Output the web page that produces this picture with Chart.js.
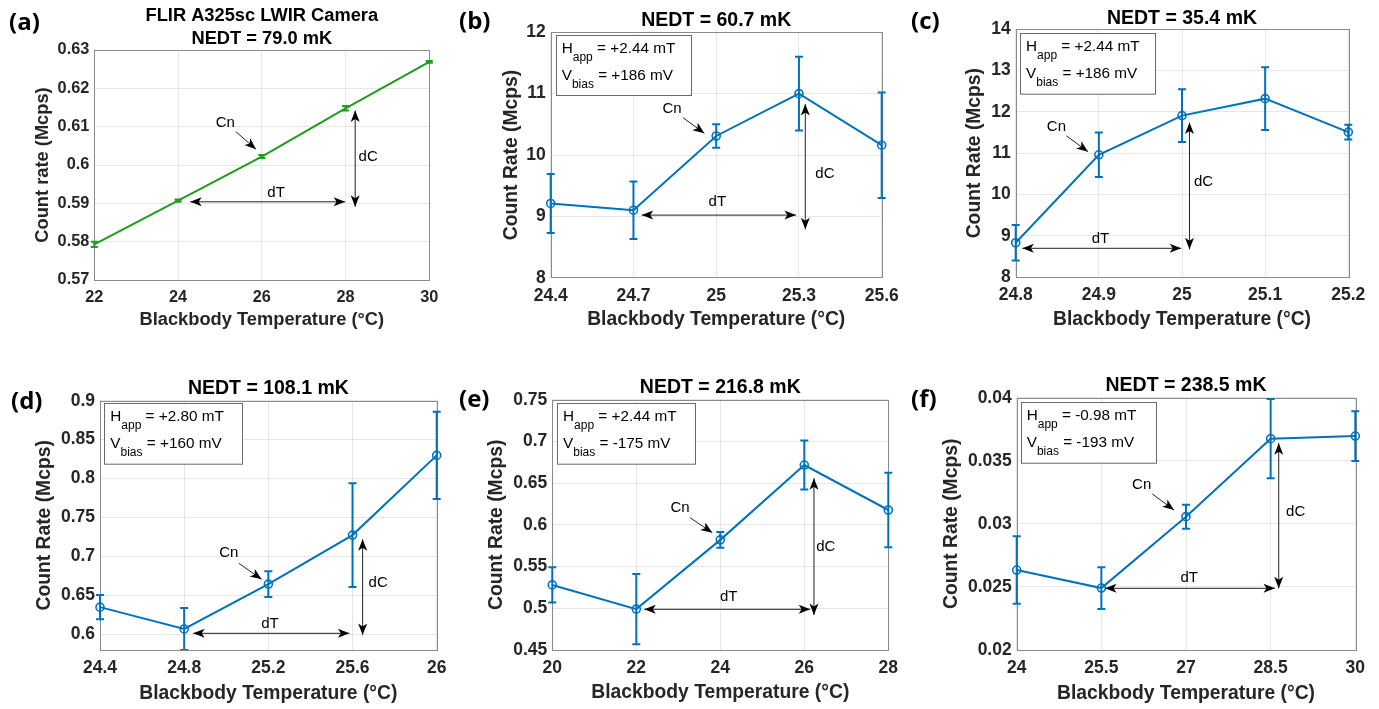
<!DOCTYPE html>
<html><head><meta charset="utf-8">
<script src="https://cdn.jsdelivr.net/npm/chart.js@4.4.1/dist/chart.umd.min.js"></script>
<style>
html,body{margin:0;padding:0;background:#fff;}
#wrap{position:relative;width:1379px;height:709px;overflow:hidden;background:#fff;}
.cell{position:absolute;}
canvas{display:block;}
</style></head><body><div id="wrap"></div>
<script>
// ---------------- data ----------------
const tempsA = [22, 24, 26, 28, 30];
const rateA  = [0.5793, 0.5907, 0.6022, 0.6148, 0.6269];
const errA   = [0.0007, 0.0003, 0.0004, 0.0006, 0.0002];
const xTicksA = [22, 24, 26, 28, 30];
const yTicksA = [0.57, 0.58, 0.59, 0.6, 0.61, 0.62, 0.63];

const tempsB = [24.4, 24.7, 25.0, 25.3, 25.6];
const rateB  = [9.21, 9.10, 10.31, 11.00, 10.16];
const errB   = [0.48, 0.47, 0.19, 0.60, 0.86];
const xTicksB = [24.4, 24.7, 25, 25.3, 25.6];
const yTicksB = [8, 9, 10, 11, 12];

const tempsC = [24.8, 24.9, 25.0, 25.1, 25.2];
const rateC  = [8.83, 10.96, 11.91, 12.32, 11.51];
const errC   = [0.43, 0.54, 0.64, 0.76, 0.18];
const xTicksC = [24.8, 24.9, 25, 25.1, 25.2];
const yTicksC = [8, 9, 10, 11, 12, 13, 14];

const tempsD = [24.4, 24.8, 25.2, 25.6, 26.0];
const rateD  = [0.635, 0.607, 0.6646, 0.7275, 0.8298];
const errD   = [0.0155, 0.027, 0.0165, 0.0666, 0.056];
const xTicksD = [24.4, 24.8, 25.2, 25.6, 26];
const yTicksD = [0.6, 0.65, 0.7, 0.75, 0.8, 0.85, 0.9];

const tempsE = [20, 22, 24, 26, 28];
const rateE  = [0.528, 0.499, 0.582, 0.6717, 0.6178];
const errE   = [0.0212, 0.042, 0.0094, 0.0293, 0.0447];
const xTicksE = [20, 22, 24, 26, 28];
const yTicksE = [0.45, 0.5, 0.55, 0.6, 0.65, 0.7, 0.75];

const tempsF = [24, 25.5, 27, 28.5, 30];
const rateF  = [0.02634, 0.02491, 0.03057, 0.03675, 0.03696];
const errF   = [0.00267, 0.00165, 0.00095, 0.00314, 0.00197];
const xTicksF = [24, 25.5, 27, 28.5, 30];
const yTicksF = [0.02, 0.025, 0.03, 0.035, 0.04];

const titles = ['NEDT = 79.0 mK', 'NEDT = 60.7 mK', 'NEDT = 35.4 mK', 'NEDT = 108.1 mK', 'NEDT = 216.8 mK', 'NEDT = 238.5 mK'];
const happ  = ['+2.44 mT', '+2.44 mT', '+2.80 mT', '+2.44 mT', '-0.98 mT'];
const vbias = ['+186 mV', '+186 mV', '+160 mV', '-175 mV', '-193 mV'];

// ---------------- layout / style ----------------
const FONT = '"Liberation Sans", Arial, Helvetica, sans-serif';
const LBLFONT = '"Open Sans", "Noto Sans", sans-serif';
const BLUE = '#0072BD', GREEN = '#1c9e1c';

const panels = [
 {cell:[0,0,455,350], pad:{l:94.3,r:25.7,t:50,b:70}, x:tempsA, y:rateA, e:errA, xt:xTicksA, yt:yTicksA,
  xmin:22, xmax:30, ymin:0.57, ymax:0.63, color:GREEN, marker:false, cap:3.5,
  title:['FLIR A325sc LWIR Camera', titles[0]], titleOff:[34,10.7], tick:16.3, lab:18.3, tsz:18.3,
  label:'(a)', lpos:[9,23], yTitle:'Count rate (Mcps)', yOff:51.6, xOff:40, box:null,
  ann:{cn:[25.13,0.6109], cf:[25.38,0.6087], ct:[25.86,0.6041], dT:[0.5904,24.29,27.99], dTt:[26.34,0.5928], dC:[28.23,0.6142,0.5891], dCt:[28.54,0.602]}},
 {cell:[455,0,910,350], pad:{l:95.7,r:28.3,t:32.3,b:72.3}, x:tempsB, y:rateB, e:errB, xt:xTicksB, yt:yTicksB,
  xmin:24.4, xmax:25.6, ymin:8, ymax:12, color:BLUE, marker:true, cap:4,
  title:[titles[1]], titleOff:[11.6], tick:17.5, lab:19.3, tsz:19.5,
  label:'(b)', lpos:[4,22], yTitle:'Count Rate (Mcps)', yOff:39, xOff:41.6, box:{dx:5,dy:2.7,w:135,h:60,i:0},
  ann:{cn:[24.84,10.75], cf:[24.879,10.61], ct:[24.957,10.354], dT:[9.02,24.73,25.289], dTt:[25.004,9.24], dC:[25.323,10.83,8.79], dCt:[25.394,9.69]}},
 {cell:[910,0,1379,350], pad:{l:105.7,r:30.7,t:29.3,b:73}, x:tempsC, y:rateC, e:errC, xt:xTicksC, yt:yTicksC,
  xmin:24.8, xmax:25.2, ymin:8, ymax:14, color:BLUE, marker:true, cap:4,
  title:[titles[2]], titleOff:[11], tick:17.5, lab:19.3, tsz:19.5,
  label:'(c)', lpos:[1,22], yTitle:'Count Rate (Mcps)', yOff:40.7, xOff:42.3, box:{dx:4.3,dy:4,w:135,h:60.7,i:1},
  ann:{cn:[24.849,11.63], cf:[24.861,11.42], ct:[24.887,11.035], dT:[8.695,24.808,24.999], dTt:[24.902,8.93], dC:[25.009,11.74,8.67], dCt:[25.026,10.31]}},
 {cell:[0,350,455,709], pad:{l:100,r:18.3,t:50.7,b:59}, x:tempsD, y:rateD, e:errD, xt:xTicksD, yt:yTicksD,
  xmin:24.4, xmax:26, ymin:0.58, ymax:0.9, color:BLUE, marker:true, cap:4,
  title:[titles[3]], titleOff:[12.4], tick:17.5, lab:19.3, tsz:19.5,
  label:'(d)', lpos:[11,51.7], yTitle:'Count Rate (Mcps)', yOff:55, xOff:43.3, box:{dx:4.3,dy:2.7,w:138,h:60.7,i:2},
  ann:{cn:[25.012,0.7041], cf:[25.06,0.6913], ct:[25.168,0.6707], dT:[0.6014,24.843,25.585], dTt:[25.208,0.6134], dC:[25.648,0.7221,0.5993], dCt:[25.722,0.6656]}},
 {cell:[455,350,910,709], pad:{l:97.3,r:21.7,t:49.7,b:59}, x:tempsE, y:rateE, e:errE, xt:xTicksE, yt:yTicksE,
  xmin:20, xmax:28, ymin:0.45, ymax:0.75, color:BLUE, marker:true, cap:4,
  title:[titles[4]], titleOff:[12.4], tick:17.5, lab:19.3, tsz:19.5,
  label:'(e)', lpos:[4,50.5], yTitle:'Count Rate (Mcps)', yOff:55.6, xOff:42.7, box:{dx:4.7,dy:3.7,w:138,h:60.7,i:3},
  ann:{cn:[23.04,0.6198], cf:[23.28,0.6086], ct:[23.81,0.5906], dT:[0.4988,22.19,26.14], dTt:[24.2,0.5132], dC:[26.23,0.6558,0.492], dCt:[26.51,0.5731]}},
 {cell:[910,350,1379,709], pad:{l:106.7,r:23.7,t:47.7,b:59}, x:tempsF, y:rateF, e:errF, xt:xTicksF, yt:yTicksF,
  xmin:24, xmax:30, ymin:0.02, ymax:0.04, color:BLUE, marker:true, cap:4,
  title:[titles[5]], titleOff:[11.7], tick:17.5, lab:19.3, tsz:19.5,
  label:'(f)', lpos:[1,50], yTitle:'Count Rate (Mcps)', yOff:65, xOff:43.3, box:{dx:4,dy:4,w:135,h:60.7,i:4},
  ann:{cn:[26.215,0.03308], cf:[26.403,0.03237], ct:[26.787,0.0311], dT:[0.02489,25.565,28.577], dTt:[27.058,0.02573], dC:[28.643,0.03639,0.02489], dCt:[28.944,0.03096]}}
];

function head(ctx, tx, ty, ang){
  const L = 11.5, W = 4.5, N = 8.5;
  ctx.save(); ctx.translate(tx, ty); ctx.rotate(ang);
  ctx.beginPath(); ctx.moveTo(0,0); ctx.lineTo(-L,-W); ctx.lineTo(-N,0); ctx.lineTo(-L,W); ctx.closePath();
  ctx.fill(); ctx.restore();
}
function arrow(ctx, x1, y1, x2, y2, both){
  ctx.beginPath(); ctx.moveTo(x1,y1); ctx.lineTo(x2,y2); ctx.stroke();
  const ang = Math.atan2(y2-y1, x2-x1);
  head(ctx, x2, y2, ang);
  if (both) head(ctx, x1, y1, ang + Math.PI);
}

function decor(P){
  return {
    id: 'decor',
    beforeDatasetsDraw(chart){
      const {ctx, chartArea:a} = chart;
      ctx.save();
      ctx.strokeStyle = '#8a8a8a'; ctx.lineWidth = 1;
      ctx.strokeRect(Math.round(a.left)+0.5, Math.round(a.top)+0.5, Math.round(a.right-a.left), Math.round(a.bottom-a.top));
      ctx.restore();
    },
    afterDatasetsDraw(chart){
      const {ctx, chartArea:a, scales:{x, y}} = chart;
      ctx.save();
      ctx.beginPath(); ctx.rect(a.left-12, a.top, a.right-a.left+24, a.bottom-a.top); ctx.clip();
      ctx.strokeStyle = P.color; ctx.lineWidth = 2;
      P.x.forEach((t,i) => {
        const px = x.getPixelForValue(t);
        const y1 = y.getPixelForValue(P.y[i]-P.e[i]);
        const y2 = y.getPixelForValue(P.y[i]+P.e[i]);
        ctx.beginPath();
        ctx.moveTo(px,y1); ctx.lineTo(px,y2);
        ctx.moveTo(px-P.cap,y1); ctx.lineTo(px+P.cap,y1);
        ctx.moveTo(px-P.cap,y2); ctx.lineTo(px+P.cap,y2);
        ctx.stroke();
      });
      ctx.restore();
    },
    afterDraw(chart){
      const {ctx, chartArea:a, scales:{x, y}} = chart;
      const X = v => x.getPixelForValue(v), Y = v => y.getPixelForValue(v);
      ctx.save();
      // annotations
      const A = P.ann;
      ctx.fillStyle = '#000'; ctx.strokeStyle = '#222'; ctx.lineWidth = 1;
      ctx.font = '15px ' + FONT; ctx.textAlign = 'center'; ctx.textBaseline = 'middle';
      ctx.fillText('Cn', X(A.cn[0]), Y(A.cn[1]));
      ctx.fillText('dT', X(A.dTt[0]), Y(A.dTt[1]));
      ctx.fillText('dC', X(A.dCt[0]), Y(A.dCt[1]));
      arrow(ctx, X(A.cf[0]), Y(A.cf[1]), X(A.ct[0]), Y(A.ct[1]), false);
      arrow(ctx, X(A.dT[1]), Y(A.dT[0]), X(A.dT[2]), Y(A.dT[0]), true);
      arrow(ctx, X(A.dC[0]), Y(A.dC[1]), X(A.dC[0]), Y(A.dC[2]), true);
      // text box
      if (P.box){
        const B = P.box, bx = a.left + B.dx, by = a.top + B.dy;
        ctx.fillStyle = '#fff'; ctx.fillRect(bx, by, B.w, B.h);
        ctx.strokeStyle = '#6a6a6a'; ctx.lineWidth = 1;
        ctx.strokeRect(Math.round(bx)+0.5, Math.round(by)+0.5, B.w, B.h);
        ctx.fillStyle = '#000'; ctx.textAlign = 'left'; ctx.textBaseline = 'alphabetic';
        const rows = [['H','app',' = ' + happ[B.i]], ['V','bias',' = ' + vbias[B.i]]];
        rows.forEach((r, k) => {
          let cx = bx + 6; const base = by + 18 + k*27;
          ctx.font = '15.3px ' + FONT; ctx.fillText(r[0], cx, base); cx += ctx.measureText(r[0]).width;
          ctx.font = '12px ' + FONT; ctx.fillText(r[1], cx, base + 8); cx += ctx.measureText(r[1]).width;
          ctx.font = '15.3px ' + FONT; ctx.fillText(r[2], cx, base);
        });
      }
      // titles
      const cxm = (a.left + a.right)/2, cym = (a.top + a.bottom)/2;
      ctx.fillStyle = '#000'; ctx.textAlign = 'center'; ctx.textBaseline = 'middle';
      ctx.font = 'bold ' + P.tsz + 'px ' + FONT;
      P.title.forEach((t, k) => ctx.fillText(t, cxm, a.top - P.titleOff[k]));
      ctx.fillStyle = '#262626';
      ctx.font = 'bold ' + P.lab + 'px ' + FONT;
      ctx.fillText('Blackbody Temperature (°C)', cxm, a.bottom + P.xOff);
      ctx.save(); ctx.translate(a.left - P.yOff, cym); ctx.rotate(-Math.PI/2);
      ctx.fillText(P.yTitle, 0, 0); ctx.restore();
      // panel label
      ctx.fillStyle = '#000'; ctx.textAlign = 'left';
      ctx.font = 'bold 24px ' + LBLFONT;
      ctx.fillText(P.label, P.lpos[0], P.lpos[1]);
      ctx.restore();
    }
  };
}

const wrap = document.getElementById('wrap');
panels.forEach(P => {
  const [cl, ct, cr, cb] = P.cell;
  const div = document.createElement('div');
  div.className = 'cell';
  div.style.left = cl + 'px'; div.style.top = ct + 'px';
  div.style.width = (cr-cl) + 'px'; div.style.height = (cb-ct) + 'px';
  const cv = document.createElement('canvas');
  cv.width = cr-cl; cv.height = cb-ct;
  cv.style.width = (cr-cl) + 'px'; cv.style.height = (cb-ct) + 'px';
  div.appendChild(cv); wrap.appendChild(div);
  const tickFont = {family: FONT, weight: 'bold', size: P.tick};
  new Chart(cv, {
    type: 'line',
    data: { datasets: [{
      data: P.x.map((t, i) => ({x: t, y: P.y[i]})),
      borderColor: P.color, borderWidth: 2, tension: 0, fill: false, clip: false,
      pointRadius: P.marker ? 4 : 0, pointBorderWidth: 1.6, pointBorderColor: P.color,
      pointBackgroundColor: 'rgba(0,0,0,0)'
    }]},
    options: {
      responsive: false, animation: false, devicePixelRatio: 1,
      layout: { padding: {left: 0, right: P.pad.r, top: P.pad.t, bottom: 0}, autoPadding: false },
      plugins: { legend: {display: false}, tooltip: {enabled: false}, title: {display: false} },
      events: [],
      scales: {
        x: { type: 'linear', min: P.xmin, max: P.xmax,
          afterBuildTicks: s => { s.ticks = P.xt.map(v => ({value: v})); },
          afterFit: s => { s.height = P.pad.b; s.paddingLeft = 0; s.paddingRight = 0; },
          ticks: { autoSkip: false, maxRotation: 0, minRotation: 0, padding: 8, color: '#262626', font: tickFont,
                   callback: v => String(v) },
          grid: { color: '#e6e6e6', lineWidth: 1, drawTicks: false },
          border: { display: false } },
        y: { type: 'linear', min: P.ymin, max: P.ymax,
          afterBuildTicks: s => { s.ticks = P.yt.map(v => ({value: v})); },
          afterFit: s => { s.width = P.pad.l; s.paddingTop = 0; s.paddingBottom = 0; },
          ticks: { autoSkip: false, padding: 5, color: '#262626', font: tickFont,
                   callback: v => String(v) },
          grid: { color: '#e6e6e6', lineWidth: 1, drawTicks: false },
          border: { display: false } }
      }
    },
    plugins: [decor(P)]
  });
});
</script>
</body></html>
